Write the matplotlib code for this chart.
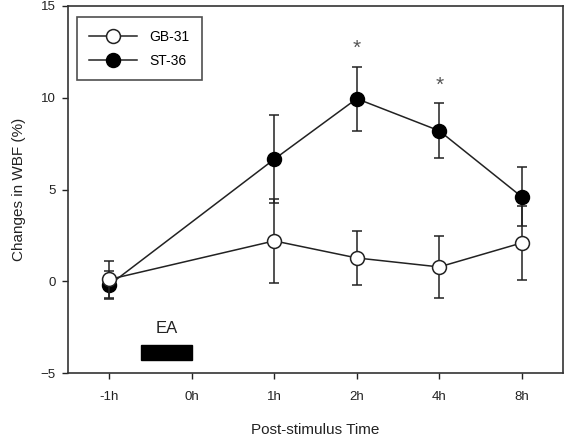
import matplotlib
matplotlib.use("Agg")
import matplotlib.pyplot as plt
from matplotlib.lines import Line2D
import numpy as np

plt.rcParams['font.family'] = ['Liberation Sans', 'DejaVu Sans']

time_labels = ["-1h", "0h", "1h", "2h", "4h", "8h"]
gb_pos = [0, 2, 3, 4, 5]
gb_vals = [0.1, 2.2, 1.27, 0.78, 2.09]
gb_err = [1.0, 2.3, 1.45, 1.7, 2.0]
st_pos = [0, 2, 3, 4, 5]
st_vals = [-0.2, 6.65, 9.95, 8.2, 4.6]
st_err = [0.75, 2.4, 1.75, 1.5, 1.6]
sig_pos = [3, 4]
sig_y = [12.7, 10.7]

fig = plt.figure(figsize=(5.68, 4.38), dpi=100)
ax = fig.add_axes([68/568, 65/438, 495/568, 367/438])

lc = '#222222'
ax.errorbar(gb_pos, gb_vals, yerr=gb_err, color=lc, lw=1.1, marker='o', ms=10,
            mfc='white', mec=lc, mew=1.1, capsize=3.5, elinewidth=1.1,
            capthick=1.1, zorder=3)
ax.errorbar(st_pos, st_vals, yerr=st_err, color=lc, lw=1.1, marker='o', ms=10,
            mfc='black', mec='black', mew=1.1, capsize=3.5, elinewidth=1.1,
            capthick=1.1, zorder=2)

for p, y in zip(sig_pos, sig_y):
    ax.text(p, y, '*', ha='center', va='center', fontsize=15, color='#555555')

# EA bar
ax.add_patch(plt.Rectangle((0.39, -4.3), 0.61, 0.8, color='black', zorder=3))
ax.text(0.7, -2.6, 'EA', ha='center', va='center', fontsize=12, color='#222222')

ax.set_xlim(-0.5, 5.5)
ax.set_ylim(-5, 15)
ax.set_xticks(range(len(time_labels)))
ax.set_xticklabels(time_labels)
ax.set_yticks([-5, 0, 5, 10, 15])
ax.tick_params(direction='out', length=4, width=1, labelsize=9.5, colors='#222222')
ax.tick_params(axis='y', pad=5)
ax.tick_params(axis='x', pad=9)
for s in ax.spines.values():
    s.set_linewidth(1.2)
    s.set_color('#333333')

ax.set_xlabel('Post-stimulus Time', fontsize=11, color='#222222', labelpad=14)
ax.set_ylabel('Changes in WBF (%)', fontsize=11, color='#222222', labelpad=10)

handles = [
    Line2D([], [], color=lc, lw=1.1, marker='o', ms=10, mfc='white', mec=lc, mew=1.1),
    Line2D([], [], color=lc, lw=1.1, marker='o', ms=10, mfc='black', mec='black', mew=1.1),
]
leg = ax.legend(handles, ['GB-31', 'ST-36'], loc='upper left',
                bbox_to_anchor=(0.018, 0.97), fontsize=10,
                frameon=True, fancybox=False, edgecolor='#222222',
                handlelength=3.4, borderpad=0.9, labelspacing=0.75,
                handletextpad=0.9, borderaxespad=0)
leg.get_frame().set_linewidth(1.2)

fig.savefig('out.png', dpi=100)
